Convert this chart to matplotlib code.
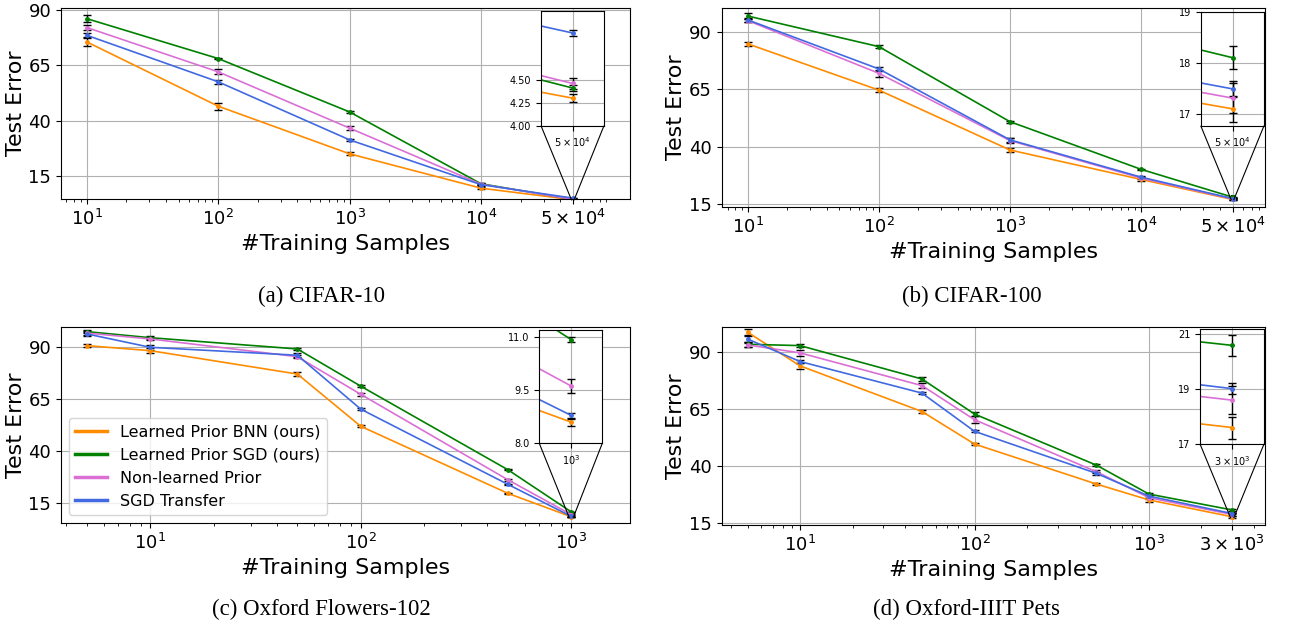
import matplotlib.pyplot as plt
import numpy as np
from matplotlib.lines import Line2D
from matplotlib.ticker import NullLocator, FixedLocator
from mpl_toolkits.axes_grid1.inset_locator import mark_inset

methods = ['Learned Prior BNN (ours)', 'Learned Prior SGD (ours)',
           'Non-learned Prior', 'SGD Transfer']
colors = ['darkorange', 'green', 'orchid', 'royalblue']

# CIFAR-10 (rows follow `methods`)
c10_n = [10, 100, 1000, 10000, 50000]
c10_mean = [[75.5, 46.5, 25.0, 9.5, 4.30],
            [86.0, 68.0, 43.9, 11.5, 4.41],
            [82.0, 62.0, 36.6, 11.3, 4.46],
            [78.5, 57.5, 31.3, 11.1, 5.01]]
c10_std = [[1.8, 1.6, 0.6, 0.5, 0.045],
           [1.5, 0.4, 0.4, 0.5, 0.03],
           [1.0, 1.2, 0.9, 0.5, 0.055],
           [0.8, 0.9, 0.5, 0.5, 0.033]]

# CIFAR-100
c100_n = [10, 100, 1000, 10000, 50000]
c100_mean = [[84.7, 64.6, 38.6, 25.8, 17.10],
             [96.8, 83.5, 50.9, 30.2, 18.10],
             [94.8, 71.9, 42.7, 26.4, 17.31],
             [95.1, 73.8, 43.0, 26.8, 17.49]]
c100_std = [[1.0, 1.0, 0.8, 0.5, 0.25],
            [1.2, 0.8, 0.5, 0.3, 0.23],
            [0.8, 1.5, 1.0, 0.6, 0.3],
            [0.8, 1.0, 1.0, 0.6, 0.15]]

# Oxford Flowers-102
fl_n = [5, 10, 50, 100, 500, 1000]
fl_mean = [[90.5, 88.1, 76.9, 51.9, 19.8, 8.60],
           [97.2, 94.3, 88.9, 71.1, 31.1, 10.93],
           [96.5, 93.7, 85.2, 67.2, 26.3, 9.62],
           [96.1, 89.7, 85.9, 60.1, 24.1, 8.79]]
fl_std = [[0.7, 1.2, 0.8, 0.4, 0.3, 0.1],
          [0.6, 0.8, 0.6, 0.4, 0.3, 0.07],
          [0.8, 0.6, 0.8, 0.8, 0.5, 0.2],
          [0.8, 1.2, 1.0, 0.4, 0.4, 0.07]]

# Oxford-IIIT Pets
pets_n = [5, 10, 50, 100, 500, 1000, 3000]
pets_mean = [[98.8, 84.0, 63.9, 49.6, 32.0, 25.0, 17.6],
             [93.5, 92.9, 78.2, 62.8, 40.3, 27.6, 20.6],
             [93.2, 89.7, 75.3, 60.3, 37.4, 26.0, 18.6],
             [95.8, 85.9, 72.0, 55.2, 36.7, 26.7, 19.02]]
pets_std = [[1.2, 1.2, 0.6, 0.6, 0.5, 0.7, 0.4],
            [1.0, 0.8, 0.8, 0.8, 0.4, 0.5, 0.37],
            [1.0, 1.2, 1.2, 1.5, 0.7, 0.7, 0.5],
            [1.2, 0.8, 0.6, 0.5, 0.7, 0.7, 0.2]]

panels = [
    dict(n=c10_n, mean=c10_mean, std=c10_std, caption='(a) CIFAR-10',
         rect=[0.0472, 0.6841, 0.4404, 0.3032], cap_xy=(0.249, 0.530),
         xlim=(10**0.804, 10**5.134), ylim=(4.6, 90.8),
         xticks=[10, 100, 1000, 10000, 50000],
         xlabels=[r'$10^{1}$', r'$10^{2}$', r'$10^{3}$', r'$10^{4}$', r'$5\times10^{4}$'],
         ins=[0.8436, 0.3838, 0.1107, 0.6005], ins_ylim=(4.0, 5.25),
         ins_yticks=[4.0, 4.25, 4.5], ins_fmt='{:.2f}'),
    dict(n=c100_n, mean=c100_mean, std=c100_std, caption='(b) CIFAR-100',
         rect=[0.5586, 0.6714, 0.4205, 0.3159], cap_xy=(0.752, 0.530),
         xlim=(10**0.80, 10**4.947), ylim=(13.8, 100.3),
         xticks=[10, 100, 1000, 10000, 50000],
         xlabels=[r'$10^{1}$', r'$10^{2}$', r'$10^{3}$', r'$10^{4}$', r'$5\times10^{4}$'],
         ins=[0.8817, 0.4085, 0.1165, 0.5729], ins_ylim=(16.77, 19.0),
         ins_yticks=[17, 18, 19], ins_fmt='{:.0f}'),
    dict(n=fl_n, mean=fl_mean, std=fl_std, caption='(c) Oxford Flowers-102',
         rect=[0.0472, 0.1698, 0.4404, 0.3111], cap_xy=(0.249, 0.032),
         xlim=(10**0.576, 10**3.279), ylim=(5.6, 99.4),
         xticks=[10, 100, 1000],
         xlabels=[r'$10^{1}$', r'$10^{2}$', r'$10^{3}$'],
         ins=[0.8406, 0.4066, 0.1107, 0.578], ins_ylim=(8.0, 11.2),
         ins_yticks=[8.0, 9.5, 11.0], ins_fmt='{:.1f}', legend=True),
    dict(n=pets_n, mean=pets_mean, std=pets_std, caption='(d) Oxford-IIIT Pets',
         rect=[0.5586, 0.1667, 0.4205, 0.3143], cap_xy=(0.748, 0.032),
         xlim=(10**0.551, 10**3.665), ylim=(14.0, 101.1),
         xticks=[10, 100, 1000, 3000],
         xlabels=[r'$10^{1}$', r'$10^{2}$', r'$10^{3}$', r'$3\times10^{3}$'],
         ins=[0.8804, 0.409, 0.1178, 0.581], ins_ylim=(17.0, 21.2),
         ins_yticks=[17, 19, 21], ins_fmt='{:.0f}'),
]


def plot_series(ax, n, mean, std):
    for m, s, c, lab in zip(mean, std, colors, methods):
        ax.errorbar(n, m, yerr=s, color=c, ecolor='black', elinewidth=1,
                    capsize=3, marker='o', markersize=2.5, lw=1.2, label=lab)


fig = plt.figure(figsize=(12.92, 6.30), dpi=100)

for p in panels:
    ax = fig.add_axes(p['rect'])
    plot_series(ax, p['n'], p['mean'], p['std'])
    ax.set_xscale('log')
    ax.set_xlim(*p['xlim'])
    ax.set_ylim(*p['ylim'])
    ax.set_xticks(p['xticks'])
    ax.set_xticklabels(p['xlabels'])
    ax.set_yticks([15, 40, 65, 90])
    ax.tick_params(labelsize=13)
    ax.grid(True)
    ax.set_xlabel('#Training Samples', fontsize=16)
    ax.set_ylabel('Test Error', fontsize=16, labelpad=2)
    if p.get('legend'):
        handles = [Line2D([], [], color=c, lw=2.5) for c in colors]
        ax.legend(handles, methods, loc='lower left', fontsize=11.5)

    # zoomed view of the largest training set size
    x_last = p['n'][-1]
    axins = ax.inset_axes(p['ins'])
    plot_series(axins, p['n'], p['mean'], p['std'])
    axins.set_xscale('log')
    axins.set_xlim(0.98 * x_last, 1.02 * x_last)
    axins.set_ylim(*p['ins_ylim'])
    axins.xaxis.set_major_locator(FixedLocator([x_last]))
    axins.xaxis.set_minor_locator(NullLocator())
    axins.set_xticklabels([p['xlabels'][-1]])
    axins.set_yticks(p['ins_yticks'])
    axins.set_yticklabels([p['ins_fmt'].format(v) for v in p['ins_yticks']])
    axins.tick_params(labelsize=7)
    axins.grid(True)
    mark_inset(ax, axins, loc1=3, loc2=4, fc='none', ec='black', lw=0.8)

    fig.text(p['cap_xy'][0], p['cap_xy'][1], p['caption'], ha='center',
             va='center', fontsize=16.5, family='Liberation Serif')

fig.savefig('out.png', dpi=100)
